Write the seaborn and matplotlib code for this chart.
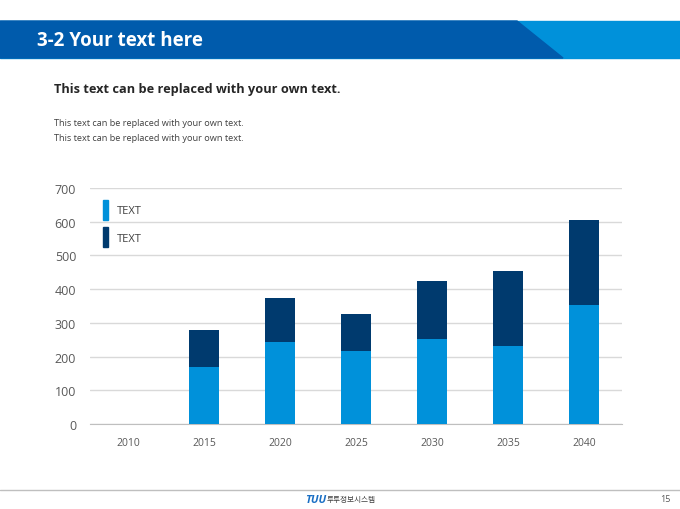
import matplotlib
matplotlib.use("Agg")
import matplotlib.pyplot as plt
from matplotlib.patches import Rectangle, Polygon
import pandas as pd
import seaborn as sns

# data
years = ["2010", "2015", "2020", "2025", "2030", "2035", "2040"]
light_vals = [0, 168, 244, 218, 252, 231, 354]
dark_vals = [0, 112, 130, 109, 171, 223, 250]
series_names = ["TEXT", "TEXT"]
y_ticks = [0, 100, 200, 300, 400, 500, 600, 700]

LIGHT = "#0091DA"
DARK = "#003A6E"

sns.set_style("white")
plt.rcParams['font.family'] = ['Open Sans', 'Noto Sans CJK KR', 'DejaVu Sans']

df = pd.DataFrame({"year": years, "light": light_vals, "dark": dark_vals})
df["total"] = df["light"] + df["dark"]

fig = plt.figure(figsize=(6.8, 5.1), dpi=100)

# header band
fig.patches.append(Rectangle((0, 1 - 59 / 510), 1, 37 / 510, transform=fig.transFigure,
                             color="#0091DA", zorder=0))
fig.patches.append(Polygon([(0, 1 - 22 / 510), (517 / 680, 1 - 22 / 510),
                            (563 / 680, 1 - 59 / 510), (0, 1 - 59 / 510)],
                           closed=True, transform=fig.transFigure, color="#005BAC", zorder=1))
fig.text(37 / 680, 1 - 41 / 510, "3-2 Your text here", color="white", fontsize=13.5,
         fontweight="bold", va="center", ha="left")

fig.text(54 / 680, 1 - 90 / 510, "This text can be replaced with your own text.",
         color="#262626", fontsize=9.2, fontweight="bold", va="center", ha="left")
fig.text(54 / 680, 1 - 124 / 510, "This text can be replaced with your own text.",
         color="#404040", fontsize=6.6, va="center", ha="left")
fig.text(54 / 680, 1 - 139 / 510, "This text can be replaced with your own text.",
         color="#404040", fontsize=6.6, va="center", ha="left")

# chart
ax = fig.add_axes([90 / 680, 1 - 425 / 510, 532 / 680, 236 / 510])
sns.barplot(data=df, x="year", y="total", order=years, color=DARK, width=0.4,
            saturation=1, linewidth=0, ax=ax, zorder=3)
sns.barplot(data=df, x="year", y="light", order=years, color=LIGHT, width=0.4,
            saturation=1, linewidth=0, ax=ax, zorder=4)

ax.set_ylim(0, 700)
ax.set_xlim(-0.5, len(years) - 0.5)
ax.set_yticks(y_ticks)
ax.set_xlabel("")
ax.set_ylabel("")
ax.grid(axis="y", color="#D9D9D9", linewidth=1, zorder=0)
ax.set_axisbelow(True)
for s in ["top", "right", "left"]:
    ax.spines[s].set_visible(False)
ax.spines["bottom"].set_color("#BFBFBF")
ax.tick_params(axis="y", length=0, pad=10, labelsize=9, labelcolor="#595959")
ax.tick_params(axis="x", which="major", length=0, pad=9, labelsize=7.5, labelcolor="#595959")
ax.set_xticks([i - 0.5 for i in range(len(years) + 1)], minor=True)
ax.tick_params(axis="x", which="minor", length=5, color="#BFBFBF", direction="out")

handles = [Rectangle((0, 0), 1, 1, color=LIGHT), Rectangle((0, 0), 1, 1, color=DARK)]
leg = ax.legend(handles, series_names, loc="upper left", bbox_to_anchor=(0.006, 0.99),
                frameon=False, handlelength=0.45, handleheight=2.3, labelspacing=0.7,
                handletextpad=0.8, fontsize=8)
for t in leg.get_texts():
    t.set_color("#404040")

# footer
fig.add_artist(plt.Line2D([0, 1], [1 - 491 / 510, 1 - 491 / 510], transform=fig.transFigure,
                          color="#BFBFBF", linewidth=1))
fig.text(305 / 680, 1 - 501 / 510, "TUU", color="#1A6FC4", fontsize=8, fontweight="bold",
         style="italic", va="center", ha="left")
fig.text(327 / 680, 1 - 501 / 510, "투투정보시스템", color="#404040", fontsize=5.5,
         va="center", ha="left")
fig.text(660 / 680, 1 - 500 / 510, "15", color="#595959", fontsize=6.5,
         va="center", ha="left")

fig.savefig("out.png", dpi=100)
